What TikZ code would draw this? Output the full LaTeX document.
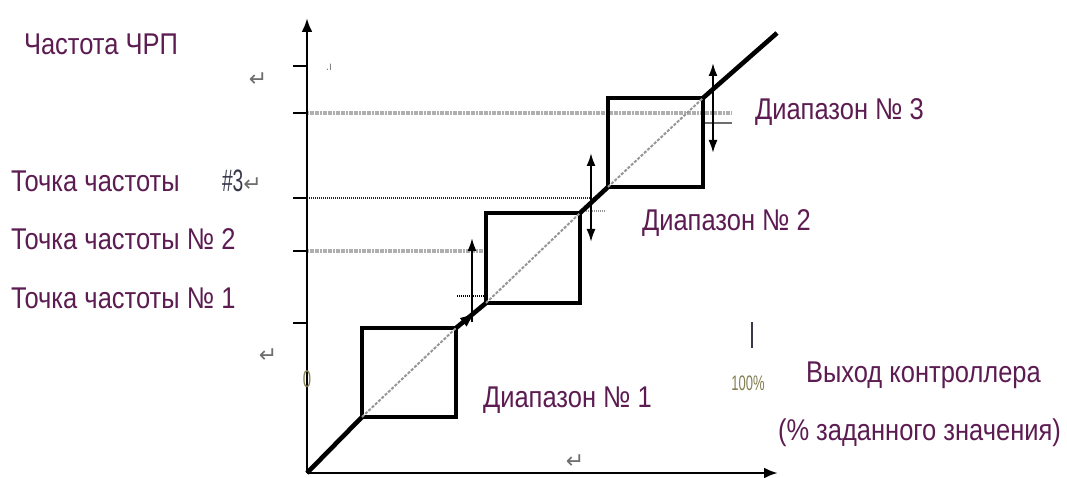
\documentclass[tikz,border=0pt]{standalone}
\usepackage{fontspec}
\setmainfont{Liberation Sans}[FakeStretch=0.85]
\newfontfamily\narrowfont{Liberation Sans}[FakeStretch=0.62]
\newfontfamily\symbfont{DejaVu Sans}
\usetikzlibrary{arrows.meta}
\definecolor{labelpurple}{RGB}{92,28,82}
\definecolor{markgray}{RGB}{110,110,110}
\definecolor{guidegray}{RGB}{150,150,150}
\definecolor{lightguide}{RGB}{175,175,175}
\definecolor{olivegray}{RGB}{130,125,80}
\definecolor{slategray}{RGB}{55,57,75}

\begin{document}
\begin{tikzpicture}
    [x=1pt, y=-1pt,
      every node/.style={inner sep=0pt, outer sep=0pt},
      axtext/.style={anchor=base west, text=labelpurple, font=\fontsize{30}{32}\selectfont},
      smalltext/.style={text=olivegray, font=\narrowfont\fontsize{21}{21}\selectfont},
      retmark/.style={text=markgray, font=\symbfont\fontsize{22}{22}\selectfont},
      axisline/.style={line width=2.8pt, -{Latex[length=14pt,width=11pt]}},
      tickmark/.style={line width=2.8pt},
      band/.style={line width=3.4pt},
      curve/.style={line width=4.6pt},
      boxdiag/.style={guidegray, line width=2pt, dash pattern=on 3pt off 1.5pt},
      guide/.style={lightguide, line width=3.4pt, dash pattern=on 2pt off 0.6pt},
      lift/.style={line width=2pt, -{Latex[length=13pt,width=9pt]}},
      swing/.style={line width=2pt, {Latex[length=13pt,width=9pt]}-{Latex[length=13pt,width=9pt]}}]
    \useasboundingbox (0,0) rectangle (1067,478);

    \coordinate (o) at (307,473);
    \coordinate (ytop) at (307,18);
    \coordinate (xend) at (778,473);
    \coordinate (b1sw) at (362,417);
    \coordinate (b1ne) at (456,328);
    \coordinate (b2sw) at (486,303);
    \coordinate (b2ne) at (580,213);
    \coordinate (b3sw) at (608,187);
    \coordinate (b3ne) at (703,98);
    \coordinate (tip1) at (475,313);
    \coordinate (top) at (777,33);

    \draw[guide] (307,113) -- (732,113);
    \draw[guide, black!85, line width=2.6pt, dash pattern=on 1.2pt off 0.8pt] (307,198) -- (595,198);
    \draw[guide] (307,251) -- (486,251);
    \draw[guide, black, line width=2.2pt, dash pattern=on 1.2pt off 0.8pt] (457,296) -- (486,296);
    \draw[guide, guidegray, line width=2.2pt, dash pattern=on 1.2pt off 0.8pt] (580,211) -- (606,211);
    \draw[markgray, line width=1.4pt] (705,123) -- (732,123);
    \foreach \y in {66,113,198,251,323}
        \draw[tickmark] (293,\y) -- (307,\y);

    \draw[axisline] (o) -- (ytop);
    \draw[axisline] (o) -- (xend);

    \draw[band] (b1sw) rectangle (b1ne);
    \draw[band] (b2sw) rectangle (b2ne);
    \draw[band] (b3sw) rectangle (b3ne);

    \draw[curve] (o) -- (b1sw);
    \draw[boxdiag] (b1sw) -- (b1ne);
    \draw[curve] (b1ne) -- (b2sw);
    \draw[-{Latex[length=15pt,width=11pt]}, line width=1pt] (b1ne) -- (tip1);
    \draw[boxdiag] (b2sw) -- (b2ne);
    \draw[curve] (b2ne) -- (b3sw);
    \draw[boxdiag] (b3sw) -- (b3ne);
    \draw[curve] (b3ne) -- (top);

    \draw[lift] (472,322) -- (472,238);
    \draw[swing] (591,153) -- (591,242);
    \draw[swing] (713,63) -- (713,153);
    \draw[line width=2.4pt, slategray] (752,322) -- (752,348);

    \node[axtext] (vfd) at (24,55) {Частота ЧРП};
    \node[axtext] (pt3) at (11,192) {Точка частоты};
    \node[anchor=base west, text=slategray, font=\narrowfont\fontsize{31}{32}\selectfont] (num3) at (222,192) {\#3};
    \node[retmark, anchor=base west] (ret3) at (num3.base east) {↵};
    \node[axtext] (pt2) at (11,250) {Точка частоты № 2};
    \node[axtext] (pt1) at (11,308) {Точка частоты № 1};
    \node[axtext] (rng3) at (755,120) {Диапазон № 3};
    \node[axtext] (rng2) at (642,230) {Диапазон № 2};
    \node[axtext] (rng1) at (483,407) {Диапазон № 1};
    \node[axtext] (out) at (806,382) {Выход контроллера};
    \node[axtext] (pct) at (778,440) {(\% заданного значения)};
    \node[smalltext] (full) at (748,383) {100\%};
    \node[smalltext, font=\narrowfont\fontsize{24}{24}\selectfont] (zero) at (307,379) {0};
    \node[retmark] (reta) at (258,80) {↵};
    \node[retmark] (retb) at (268,356) {↵};
    \node[retmark] (retc) at (575,462) {↵};
    \node[text=markgray, font=\fontsize{12}{12}\selectfont] (dot) at (329,67) {.ı};
\end{tikzpicture}
\end{document}
